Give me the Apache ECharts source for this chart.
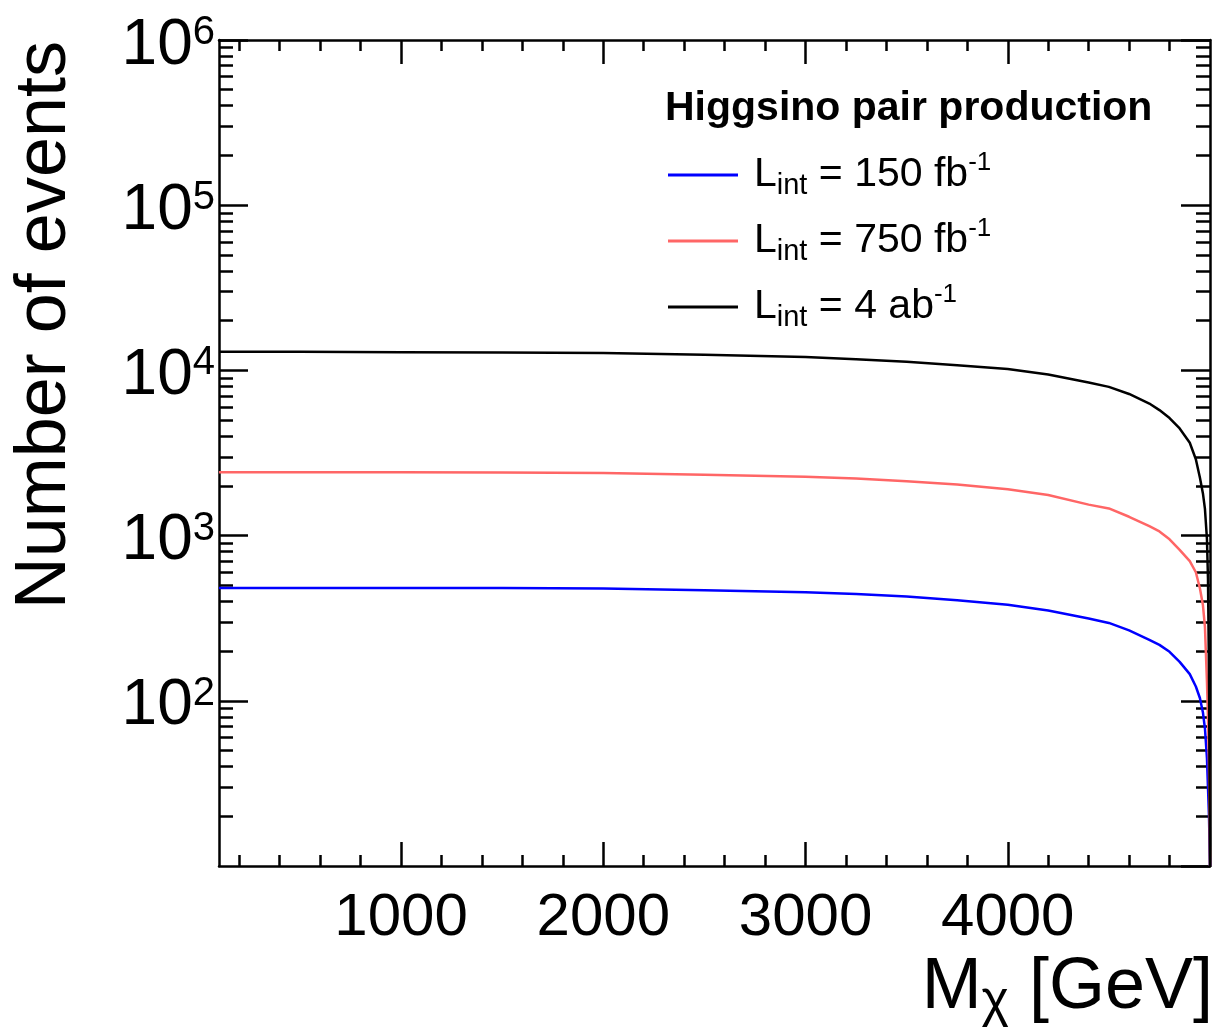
<!DOCTYPE html>
<html>
<head>
<meta charset="utf-8">
<script src="https://cdn.jsdelivr.net/npm/echarts@6/dist/echarts.min.js"></script>
<style>
  html, body { margin: 0; padding: 0; background: #fff; }
  #chart { width: 1214px; height: 1031px; }
</style>
</head>
<body>
<div id="chart"></div>
<script>
// Expected Higgsino pair-production yields versus Higgsino mass for three luminosities
const massGeV = [100, 500, 1000, 1500, 2000, 2500, 3000, 3250, 3500, 3750, 4000, 4200, 4400, 4500, 4600, 4700, 4750, 4800, 4850, 4900, 4930, 4950, 4965, 4975, 4985, 4990, 4995, 5000];
const events150fb = [482, 482, 482, 481, 478, 467, 454, 443, 428, 406, 382, 352, 315, 296, 267, 234, 218, 198, 172, 145, 122, 104, 85, 68, 45, 30, 20, 10];
const events750fb = [2420, 2420, 2420, 2410, 2390, 2335, 2270, 2215, 2130, 2040, 1910, 1760, 1540, 1460, 1300, 1140, 1060, 950, 820, 700, 600, 480, 380, 280, 130, 80, 40, 10];
const events4ab = [12950, 12950, 12900, 12850, 12740, 12450, 12050, 11700, 11300, 10750, 10200, 9450, 8450, 7950, 7200, 6300, 5750, 5150, 4450, 3650, 2900, 2250, 1800, 1450, 950, 550, 150, 10];

const seriesNames = ['Lint = 150 fb-1', 'Lint = 750 fb-1', 'Lint = 4 ab-1'];
const lumiLabels = ['150 fb', '750 fb', '4 ab'];
const seriesColors = ['#0000ff', '#ff6666', '#000000'];

// Axis ticks
const xMin = 100, xMax = 5000;
const xTickValues = [1000, 2000, 3000, 4000];
const xMinorTickValues = [200, 400, 600, 800, 1200, 1400, 1600, 1800, 2200, 2400, 2600, 2800,
  3200, 3400, 3600, 3800, 4200, 4400, 4600, 4800];
const yMin = 10, yMax = 1e6;
const yMinorMantissas = [2, 3, 4, 5, 6, 7, 8, 9];
const yDecades = [10, 100, 1000, 10000, 100000];

// Minor log ticks, placed on a linear axis spanning the same decades (exponent space)
const yMinorExponents = [];
yDecades.forEach(d => yMinorMantissas.forEach(m => yMinorExponents.push(Math.log10(m * d))));

const FONT = '"Liberation Sans", Arial, Helvetica, sans-serif';
const AXIS_W = 2.5;

function pairs(ys) { return massGeV.map((m, i) => [m, ys[i]]); }

function xAxisDef(position, ticks, len, withLine, withLabels) {
  return {
    type: 'value', position, min: xMin, max: xMax,
    axisLine: { show: withLine, onZero: false, lineStyle: { color: '#000', width: AXIS_W } },
    axisTick: { show: true, inside: true, length: len, customValues: ticks,
      lineStyle: { color: '#000', width: AXIS_W } },
    axisLabel: withLabels
      ? { show: true, customValues: ticks, margin: 22, fontSize: 60, color: '#000', fontFamily: FONT,
          formatter: v => String(v) }
      : { show: false },
    splitLine: { show: false }
  };
}

function yLogAxisDef(position, withLabels) {
  return {
    type: 'log', logBase: 10, position, min: yMin, max: yMax,
    axisLine: { show: true, onZero: false, lineStyle: { color: '#000', width: AXIS_W } },
    axisTick: { show: true, inside: true, length: 29, lineStyle: { color: '#000', width: AXIS_W } },
    axisLabel: withLabels ? {
      show: true, margin: 4, showMinLabel: false, color: '#000', fontFamily: FONT,
      padding: [12, 0, 0, 0],
      formatter: v => '{b|10}{s|' + Math.round(Math.log10(v)) + '}',
      rich: {
        b: { fontSize: 64, lineHeight: 66, fontFamily: FONT, color: '#000' },
        s: { fontSize: 40, lineHeight: 31, verticalAlign: 'top', fontFamily: FONT, color: '#000' }
      }
    } : { show: false },
    splitLine: { show: false },
    minorTick: { show: false }
  };
}

function yMinorAxisDef(position) {
  return {
    type: 'value', position, min: Math.log10(yMin), max: Math.log10(yMax),
    axisLine: { show: false, onZero: false },
    axisTick: { show: true, inside: true, length: 14, customValues: yMinorExponents,
      lineStyle: { color: '#000', width: AXIS_W } },
    axisLabel: { show: false },
    splitLine: { show: false }
  };
}

const chart = echarts.init(document.getElementById('chart'), null, { renderer: 'canvas' });

chart.setOption({
  backgroundColor: '#ffffff',
  animation: false,
  grid: { left: 219, right: 4, top: 40, bottom: 165, containLabel: false, outerBoundsMode: 'none' },
  title: {
    text: 'Higgsino pair production', left: 665, top: 86, padding: 0,
    textStyle: { fontSize: 41, fontWeight: 'bold', fontFamily: FONT, color: '#000', lineHeight: 46 }
  },
  legend: {
    orient: 'vertical', left: 668, top: 150, padding: 0, itemGap: 16,
    itemWidth: 70, itemHeight: 3, icon: 'rect', selectedMode: false,
    data: seriesNames,
    formatter: name => {
      const i = seriesNames.indexOf(name);
      return '{l|L}{sub|int}{t| = ' + lumiLabels[i] + '}{sup|-1}';
    },
    textStyle: {
      color: '#000', fontFamily: FONT,
      rich: {
        l: { fontSize: 41, lineHeight: 50, padding: [0, 0, 0, 11], fontFamily: FONT, color: '#000' },
        sub: { fontSize: 29, lineHeight: 20, verticalAlign: 'bottom', fontFamily: FONT, color: '#000' },
        t: { fontSize: 41, lineHeight: 50, fontFamily: FONT, color: '#000' },
        sup: { fontSize: 26, lineHeight: 19, verticalAlign: 'top', fontFamily: FONT, color: '#000' }
      }
    }
  },
  xAxis: [
    xAxisDef('bottom', xTickValues, 24, true, true),
    xAxisDef('bottom', xMinorTickValues, 11, false, false),
    xAxisDef('top', xTickValues, 24, true, false),
    xAxisDef('top', xMinorTickValues, 11, false, false)
  ],
  yAxis: [
    yLogAxisDef('left', true),
    yMinorAxisDef('left'),
    yLogAxisDef('right', false),
    yMinorAxisDef('right')
  ],
  graphic: [
    {
      type: 'text', x: 45, y: 41, rotation: Math.PI / 2,
      style: { text: 'Number of events', fontSize: 72, fontFamily: FONT, fill: '#000',
        align: 'right', verticalAlign: 'middle' }
    },
    {
      type: 'text', x: 1213, y: 988,
      style: {
        text: '{m|M}{c|χ}{m| [GeV]}', align: 'right', verticalAlign: 'middle', fill: '#000',
        rich: {
          m: { fontSize: 72, lineHeight: 80, fontFamily: FONT, fill: '#000' },
          c: { fontSize: 52, lineHeight: 42, verticalAlign: 'bottom', fontFamily: FONT, fill: '#000' }
        }
      }
    }
  ],
  series: [events150fb, events750fb, events4ab].map((ys, i) => ({
    name: seriesNames[i], type: 'line', xAxisIndex: 0, yAxisIndex: 0,
    data: pairs(ys), showSymbol: false, symbol: 'none', clip: true,
    color: seriesColors[i],
    lineStyle: { color: seriesColors[i], width: 2.5 },
    emphasis: { disabled: true }
  }))
});
</script>
</body>
</html>
